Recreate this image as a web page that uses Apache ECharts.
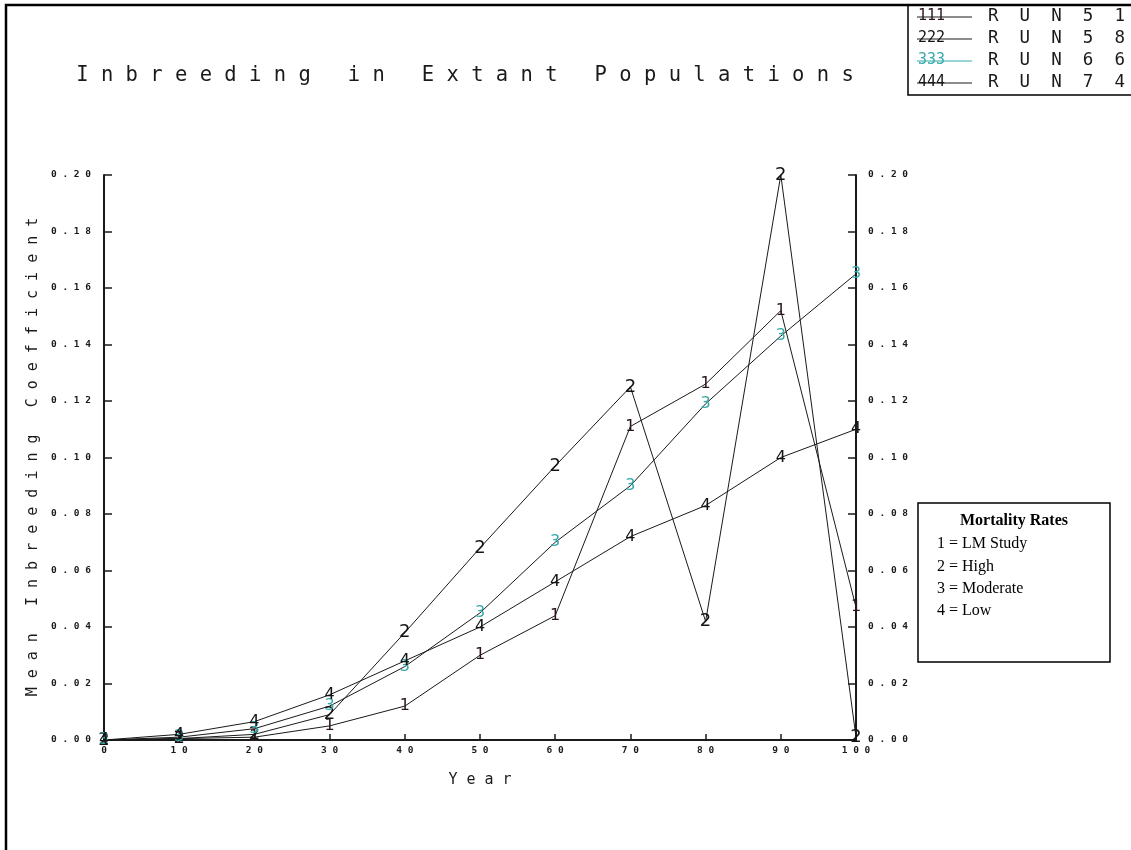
<!DOCTYPE html>
<html>
<head>
<meta charset="utf-8">
<script src="https://cdn.jsdelivr.net/npm/echarts@6/dist/echarts.min.js"></script>
<style>
  html, body { margin: 0; padding: 0; background: #ffffff; }
  #chart { width: 1131px; height: 850px; }
</style>
</head>
<body>
<div id="chart"></div>
<script>
// Simulation years (x axis)
const years = [0, 10, 20, 30, 40, 50, 60, 70, 80, 90, 100];

// Mean inbreeding coefficient per run
const run51 = [0, 0.0005, 0.001, 0.005, 0.012, 0.030, 0.044, 0.111, 0.126, 0.152, 0.047]; // 1 = LM Study
const run58 = [0, 0.0005, 0.002, 0.009, 0.038, 0.068, 0.097, 0.125, 0.042, 0.200, 0.001]; // 2 = High
const run66 = [0, 0.001, 0.004, 0.012, 0.026, 0.045, 0.070, 0.090, 0.119, 0.143, 0.165];  // 3 = Moderate
const run74 = [0, 0.002, 0.0065, 0.016, 0.028, 0.040, 0.056, 0.072, 0.083, 0.100, 0.110]; // 4 = Low

const runNames = ['RUN51', 'RUN58', 'RUN66', 'RUN74'];
const runMarks = ['1', '2', '3', '4'];
const runValues = [run51, run58, run66, run74];
const markColors = ['#2a1420', '#141414', '#34a9a9', '#141414'];
const markSizes = [16, 18, 16, 16];

const mortalityTitle = 'Mortality Rates';
const mortalityKey = ['1 = LM Study', '2 = High', '3 = Moderate', '4 = Low'];

const titleText = 'Inbreeding in Extant Populations';
const yName = 'Mean Inbreeding Coefficient';
const xName = 'Year';

// Wide-tracked lettering in the style of the plotter font
const spaced = s => s.split('').join(' ');
const spaced2 = s => s.split('').join('  ');

const MONO = '"DejaVu Sans Mono", "Liberation Mono", monospace';
const tickFont = { fontFamily: MONO, fontSize: 9.5, fontWeight: 'bold', color: '#1a1a1a' };

// Each run is a thin line whose points are marked by the run's digit
const series = runValues.map((vals, i) => ({
  name: runNames[i],
  type: 'line',
  data: years.map((y, k) => [y, vals[k]]),
  symbol: 'circle',
  symbolSize: 2,
  showSymbol: true,
  showAllSymbol: true,
  itemStyle: { color: 'rgba(0,0,0,0)', borderWidth: 0 },
  lineStyle: { color: '#1a1a1a', width: 1 },
  label: {
    show: true,
    position: 'inside',
    formatter: () => runMarks[i],
    fontFamily: '"DejaVu Sans", sans-serif',
    fontSize: markSizes[i],
    color: markColors[i],
    textBorderWidth: 0
  },
  labelLayout: { hideOverlap: false },
  emphasis: { disabled: true },
  animation: false,
  z: 3
}));

// Key boxes and frame
const graphics = [];
graphics.push({
  type: 'polyline',
  shape: { points: [[6, 850], [6, 5], [1131, 5]] },
  style: { stroke: '#000', lineWidth: 2.5, fill: null }
});
graphics.push({
  type: 'text', x: 465, y: 76,
  style: {
    text: spaced(titleText), font: '20.5px ' + MONO,
    fill: '#1a1a1a', textAlign: 'center', textVerticalAlign: 'middle'
  }
});
// run key, top right
graphics.push({
  type: 'polyline',
  shape: { points: [[908, 5], [908, 95], [1131, 95]] },
  style: { stroke: '#000', lineWidth: 1.5, fill: null }
});
runNames.forEach((nm, i) => {
  const cy = 16 + i * 22;
  graphics.push({
    type: 'text', x: 918, y: cy,
    style: { text: runMarks[i].repeat(3), font: '15px ' + MONO, fill: markColors[i], textVerticalAlign: 'middle' }
  });
  graphics.push({
    type: 'line', shape: { x1: 917, y1: cy + 1, x2: 972, y2: cy + 1 },
    style: { stroke: i === 2 ? '#34a9a9' : '#1a1a1a', lineWidth: 1 }
  });
  graphics.push({
    type: 'text', x: 988, y: cy,
    style: { text: spaced2(nm), font: '17.5px ' + MONO, fill: '#1a1a1a', textVerticalAlign: 'middle' }
  });
});
// mortality key box
graphics.push({
  type: 'rect', shape: { x: 918, y: 503, width: 192, height: 159 },
  style: { stroke: '#000', lineWidth: 1.5, fill: '#fff' }
});
graphics.push({
  type: 'text', x: 1014, y: 521,
  style: {
    text: mortalityTitle, font: 'bold 16px "Liberation Serif", serif',
    fill: '#000', textAlign: 'center', textVerticalAlign: 'middle'
  }
});
mortalityKey.forEach((t, i) => {
  graphics.push({
    type: 'text', x: 937, y: 544 + i * 22.3,
    style: { text: t, font: '16px "Liberation Serif", serif', fill: '#000', textVerticalAlign: 'middle' }
  });
});
graphics.push({
  type: 'text', x: 33, y: 457, rotation: Math.PI / 2,
  style: {
    text: spaced(yName), font: '15px ' + MONO, fill: '#1a1a1a',
    textAlign: 'center', textVerticalAlign: 'middle'
  }
});

const yAxisBase = {
  type: 'value', min: 0, max: 0.2, interval: 0.02,
  splitLine: { show: false },
  axisLine: { show: true, lineStyle: { color: '#1a1a1a', width: 2 } },
  axisTick: { show: true, inside: true, length: 8, lineStyle: { color: '#1a1a1a', width: 1.5 } },
  axisLabel: Object.assign({ formatter: v => spaced(v.toFixed(2)) }, tickFont)
};

const option = {
  backgroundColor: '#ffffff',
  animation: false,
  grid: { left: 104, right: 275, top: 175, bottom: 110, containLabel: false },
  xAxis: {
    type: 'value', min: 0, max: 100, interval: 10,
    name: spaced(xName), nameLocation: 'middle', nameGap: 33,
    nameTextStyle: { fontFamily: MONO, fontSize: 15, color: '#1a1a1a' },
    splitLine: { show: false },
    axisLine: { show: true, onZero: false, lineStyle: { color: '#1a1a1a', width: 2 } },
    axisTick: { show: true, inside: true, length: 6, lineStyle: { color: '#1a1a1a', width: 1.5 } },
    axisLabel: Object.assign({ formatter: v => spaced(String(v)), margin: 6 }, tickFont)
  },
  yAxis: [
    Object.assign({}, yAxisBase, { position: 'left', axisLabel: Object.assign({}, yAxisBase.axisLabel, { margin: 13 }) }),
    Object.assign({}, yAxisBase, { position: 'right', axisLabel: Object.assign({}, yAxisBase.axisLabel, { margin: 12 }) })
  ],
  graphic: graphics,
  series: series
};

const chart = echarts.init(document.getElementById('chart'), null, { renderer: 'canvas' });
chart.setOption(option);
</script>
</body>
</html>
